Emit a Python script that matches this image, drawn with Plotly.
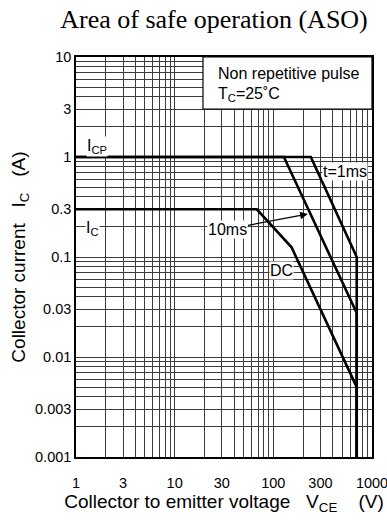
import numpy as np
import plotly.graph_objects as go

# ---- data ----
v_1ms = [1, 240, 700, 700]
i_1ms = [1, 1, 0.1, 0.001]
v_10ms = [1, 128, 700, 700]
i_10ms = [1, 1, 0.0275, 0.001]
v_dc = [1, 68, 153, 700, 700]
i_dc = [0.3, 0.3, 0.125, 0.005, 0.001]

x_labels = [1, 3, 10, 30, 100, 300, 1000]
y_labels = [0.001, 0.003, 0.01, 0.03, 0.1, 0.3, 1, 3, 10]
y_label_text = ["0.001", "0.003", "0.01", "0.03", "0.1", "0.3", "1", "3", "10"]

x_grid = [m * 10 ** d for d in range(0, 3) for m in range(1, 10)] + [1000]
y_grid = [m * 10.0 ** d for d in range(-3, 1) for m in range(1, 10)] + [10]

def fmt_x(v):
    return str(v) if v in x_labels else ""

def fmt_y(v):
    for lv, lt in zip(y_labels, y_label_text):
        if abs(v - lv) < 1e-9 * max(1, lv):
            return lt
    return ""

FONT = "Liberation Sans, Arial, sans-serif"
fig = go.Figure()
line = dict(color="black", width=2.6)
for xs, ys in [(v_1ms, i_1ms), (v_10ms, i_10ms), (v_dc, i_dc)]:
    fig.add_trace(go.Scatter(x=xs, y=ys, mode="lines", line=line,
                             showlegend=False, hoverinfo="skip"))

L = np.log10
ann = dict(font=dict(family=FONT, size=16, color="black"), bgcolor="white",
           showarrow=False, borderpad=0)
fig.add_annotation(x=L(1.63), y=L(1.26), text="I<sub>CP</sub>", **ann)
fig.add_annotation(x=L(1.48), y=L(0.195), text="I<sub>C</sub>", **ann)
fig.add_annotation(x=L(532), y=L(0.71), text="t=1ms", **ann)
fig.add_annotation(x=L(122), y=L(0.074), text="DC", **ann)
fig.add_annotation(x=L(224), y=L(0.269), ax=L(34.7), ay=L(0.19),
                   axref="x", ayref="y", text="10ms", showarrow=True,
                   arrowhead=2, arrowsize=1.2, arrowwidth=1.3, arrowcolor="black",
                   font=dict(family=FONT, size=16, color="black"),
                   bgcolor="white", borderpad=0)

# condition box
fig.add_shape(type="rect", xref="paper", yref="paper", x0=0.429, x1=1.0,
              y0=0.87, y1=1.0, fillcolor="white", line=dict(color="black", width=1.2),
              layer="above")
fig.add_annotation(xref="paper", yref="paper", x=0.472, y=0.96, xanchor="left",
                   yanchor="middle", text="Non repetitive pulse", showarrow=False,
                   font=dict(family=FONT, size=16, color="black"))
fig.add_annotation(xref="paper", yref="paper", x=0.472, y=0.907, xanchor="left",
                   yanchor="middle", text="T<sub>C</sub>=25˚C", showarrow=False,
                   font=dict(family=FONT, size=16, color="black"))

fig.update_xaxes(type="log", range=[0, 3], tickvals=x_grid,
                 ticktext=[fmt_x(v) for v in x_grid],
                 showgrid=True, gridcolor="#3c3c3c", gridwidth=1,
                 showline=True, linecolor="black", linewidth=1.5, mirror=True,
                 ticks="outside", ticklen=12, tickcolor="rgba(0,0,0,0)",
                 zeroline=False, automargin=False, ticklabeloverflow="allow",
                 tickfont=dict(family=FONT, size=14.5, color="black"),
                 title=dict(text="Collector to emitter voltage   V<sub>CE</sub>    (V)",
                            font=dict(family=FONT, size=19, color="black"),
                            standoff=0))
fig.update_yaxes(type="log", range=[-3, 1], tickvals=y_grid,
                 ticktext=[fmt_y(v) for v in y_grid],
                 showgrid=True, gridcolor="#3c3c3c", gridwidth=1,
                 showline=True, linecolor="black", linewidth=1.5, mirror=True,
                 ticks="", zeroline=False, automargin=False,
                 tickfont=dict(family=FONT, size=14.5, color="black"),
                 title=dict(text="Collector current   I<sub>C</sub>   (A)",
                            font=dict(family=FONT, size=19, color="black"),
                            standoff=4))

fig.update_layout(
    width=387, height=521,
    margin=dict(l=76, r=15, t=57, b=64, autoexpand=False),
    paper_bgcolor="white", plot_bgcolor="white",
    title=dict(text="Area of safe operation (ASO)", x=0.553, xanchor="center",
               y=0.964, yanchor="middle",
               font=dict(family="Liberation Serif, Times New Roman, serif",
                         size=26, color="black")),
    showlegend=False,
)

fig.write_html("out.html")
